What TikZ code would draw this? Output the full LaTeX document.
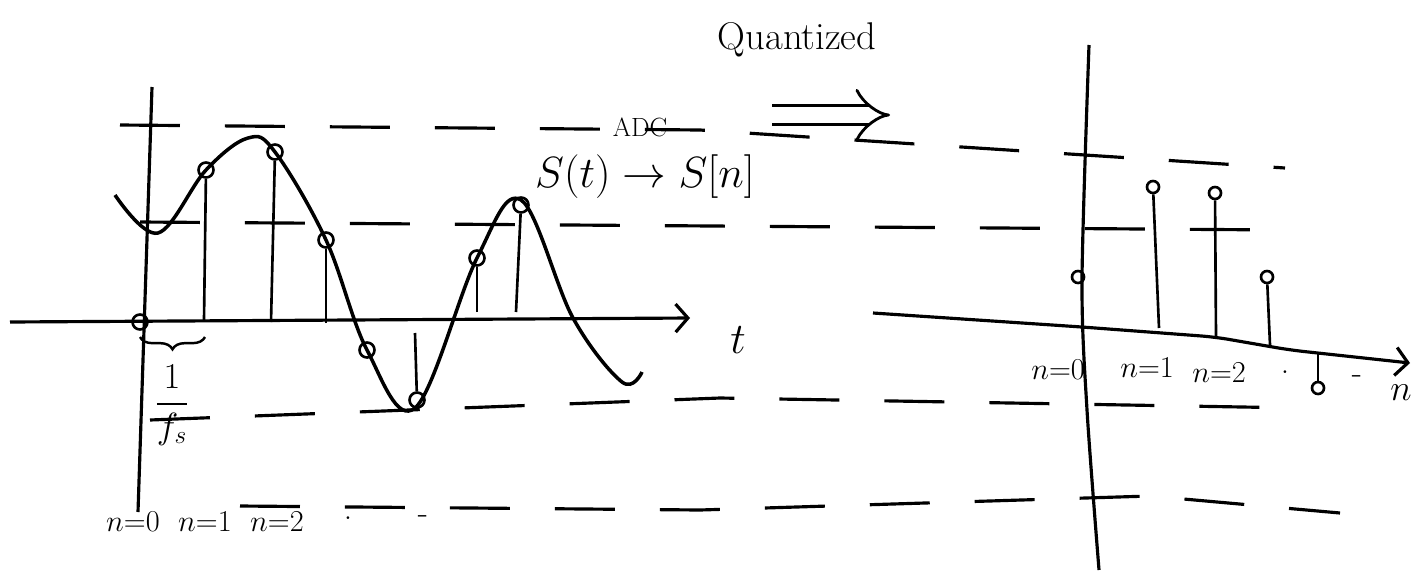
\documentclass[tikz,border=0pt]{standalone}
\usepackage{amsmath}
\usetikzlibrary{arrows.meta,decorations.pathreplacing}

\begin{document}
\begin{tikzpicture}[x=0.02cm,y=-0.02cm,
  axis/.style={line width=1.8pt,-{Straight Barb[length=7pt,width=16pt]}},
  level/.style={line width=1.8pt,dash pattern=on 1.2cm off 0.9cm},
  stem/.style={line width=1.5pt},
  samp/.style={circle,draw,line width=1.5pt,inner sep=0pt,minimum size=0.3cm},
  rsamp/.style={samp,minimum size=0.24cm},
  lbl/.style={font=\fontsize{19}{22}\selectfont,inner sep=1pt}]
\useasboundingbox (0,0) rectangle (1412,575);

% quantization levels
\draw[level] (120,125) -- (700,130) -- (1285,168);
\draw[level] (140,222) -- (1285,230);
\draw[level] (150,420) -- (720,398) -- (1300,408);
\draw[level] (240,506) -- (700,510) -- (1150,496) -- (1340,513);

% continuous signal s(t)
\coordinate (tl) at (10,322);
\coordinate (tr) at (690,318);
\coordinate (vt) at (152,87);
\coordinate (vb) at (138,512);
\draw[axis] (tl) -- (tr);
\draw[line width=1.8pt] (vt) -- (vb);
\draw[line width=2pt] plot[smooth,tension=0.6] coordinates {(115,195) (158,233) (206,170) (248,138) (275,152) (326,240) (367,350) (415,408) (477,258) (521,200) (573,318) (622,382) (642,372)};
\foreach \n/\px/\py in {0/140/322,1/206/170,2/275/152,3/326/240,4/367/350,5/417/400,6/477/258,7/521/205}
  \node[samp] (s\n) at (\px,\py) {};
\foreach \n/\px/\pb in {1/204/320,2/271/322,3/326/323,5/415/333,6/477/312,7/516/312}{
  \coordinate (b\n) at (\px,\pb);
  \draw[stem] (b\n) -- (s\n);
}
\coordinate (bl) at (140,337);
\coordinate (br) at (205,337);
\draw[line width=1.4pt,decorate,decoration={brace,mirror,amplitude=7pt}] (bl) -- (br);
\node (fs) at (172,405) {\fontsize{22}{26}\selectfont$\dfrac{1}{f_s}$};
\node[font=\fontsize{30}{34}\selectfont] (tlab) at (738,340) {$t$};

\node[lbl] (l0) at (133,522) {$n{=}0$};
\node[lbl] (l1) at (205,522) {$n{=}1$};
\node[lbl] (l2) at (277,522) {$n{=}2$};
\node[lbl] (l3) at (348,518) {.};
\node[lbl] (l4) at (423,520) {-};

% ADC mapping
\node[font=\fontsize{15}{17}\selectfont,inner sep=1pt] (adc) at (640,127) {ADC};
\node[font=\fontsize{24}{28}\selectfont,inner sep=1pt] (map) at (645,177) {$S(t)\rightarrow S[n]$};
\node[font=\fontsize{22}{26}\selectfont] (quant) at (797,40) {Quantized};
\coordinate (qa) at (772,115);
\coordinate (qb) at (890,115);
\draw[line width=1.6pt,double distance=9pt,-Implies] (qa) -- (qb);

% quantized s[n]
\coordinate (ul) at (873,313);
\coordinate (ur) at (1410,363);
\draw[axis,rounded corners=8pt] (ul) -- (1082,327) -- (1215,337) -- (1290,350) -- (ur);
\draw[line width=1.8pt] plot[smooth] coordinates {(1089,45) (1082,280) (1087,410) (1099,570)};
\foreach \n/\px/\py in {0/1078/277,1/1153/187,2/1215/193,3/1267/277,4/1318/388}
  \node[rsamp] (r\n) at (\px,\py) {};
\foreach \n/\px/\pb in {1/1159/328,2/1216/337,3/1270/345,4/1318/353}{
  \coordinate (c\n) at (\px,\pb);
  \draw[stem] (c\n) -- (r\n);
}
\node[lbl,font=\fontsize{17}{20}\selectfont] (m0) at (1058,370) {$n{=}0$};
\node[lbl,font=\fontsize{17}{20}\selectfont] (m1) at (1147,368) {$n{=}1$};
\node[lbl,font=\fontsize{17}{20}\selectfont] (m2) at (1219,373) {$n{=}2$};
\node[lbl] (m3) at (1285,372) {.};
\node[lbl] (m4) at (1357,380) {-};
\node[font=\fontsize{20}{24}\selectfont,anchor=east,inner sep=0pt] (nlab) at (1412,393) {$n$};
\end{tikzpicture}
\end{document}
